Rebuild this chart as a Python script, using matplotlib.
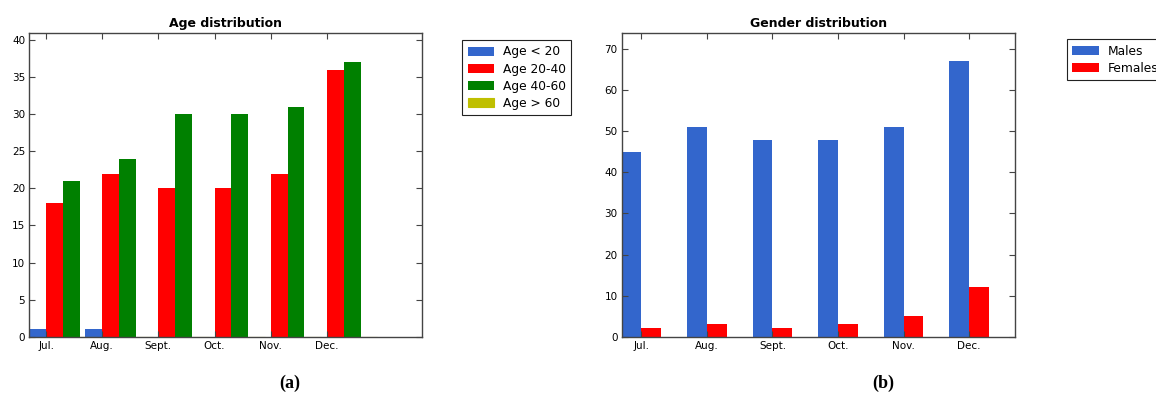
import matplotlib
matplotlib.use('Agg')
import matplotlib.pyplot as plt
import numpy as np

# Monthly counts
months = ['Jul.', 'Aug.', 'Sept.', 'Oct.', 'Nov.', 'Dec.']
age_under_20 = [1, 1, 0, 0, 0, 0]
age_20_40 = [18, 22, 20, 20, 22, 36]
age_40_60 = [21, 24, 30, 30, 31, 37]
age_over_60 = [0, 0, 0, 0, 0, 0]
males = [45, 51, 48, 48, 51, 67]
females = [2, 3, 2, 3, 5, 12]

plt.rcParams['font.family'] = 'DejaVu Sans'
plt.rcParams['axes.edgecolor'] = '#444444'
plt.rcParams['axes.linewidth'] = 1.0

width = 0.3
ind = np.arange(len(months))


def style_axes(ax, title, ymax, xmax, yticks):
    ax.set_title(title, fontsize=9, fontweight='bold', pad=4)
    ax.set_xlim(0, xmax)
    ax.set_ylim(0, ymax)
    ax.set_yticks(yticks)
    ax.set_xticks(ind + width)
    ax.set_xticklabels(months)
    ax.tick_params(direction='in', length=4, width=0.8, labelsize=7.5,
                   top=True, right=True, color='#444444', pad=3)


def add_legend(handles, labels, anchor):
    leg = fig.legend(handles, labels, loc='upper left', bbox_to_anchor=anchor,
                     borderaxespad=0, fontsize=8.8, fancybox=False,
                     edgecolor='#222222', handlelength=2.2, handleheight=0.8,
                     handletextpad=0.7, labelspacing=0.33, borderpad=0.45,
                     framealpha=1)
    leg.get_frame().set_linewidth(0.8)
    return leg


fig = plt.figure(figsize=(11.56, 3.94), dpi=100)

# (a) age groups
ax1 = fig.add_axes([0.0253, 0.1454, 0.340, 0.7716])
b1 = ax1.bar(ind, age_under_20, width, align='edge', color='#3366cc', linewidth=0)
b2 = ax1.bar(ind + width, age_20_40, width, align='edge', color='#ff0000', linewidth=0)
b3 = ax1.bar(ind + 2 * width, age_40_60, width, align='edge', color='#008000', linewidth=0)
b4 = ax1.bar(ind + 3 * width, age_over_60, width, align='edge', color='#bfbf00',
             edgecolor='#bfbf00', linewidth=0.8)
style_axes(ax1, 'Age distribution', 41, 7, np.arange(0, 41, 5))
add_legend([b1, b2, b3, b4], ['Age < 20', 'Age 20-40', 'Age 40-60', 'Age > 60'],
           (0.3997, 0.8985))

# (b) gender
ax2 = fig.add_axes([0.5378, 0.1454, 0.3402, 0.7716])
m = ax2.bar(ind, males, width, align='edge', color='#3366cc', linewidth=0)
f = ax2.bar(ind + width, females, width, align='edge', color='#ff0000', linewidth=0)
style_axes(ax2, 'Gender distribution', 74, 6, np.arange(0, 71, 10))
add_legend([m, f], ['Males', 'Females'], (0.923, 0.901))

# panel captions
fig.text(0.251, 0.028, '(a)', fontsize=13, fontweight='bold',
         family='Liberation Serif', ha='center', va='center')
fig.text(0.764, 0.028, '(b)', fontsize=13, fontweight='bold',
         family='Liberation Serif', ha='center', va='center')

fig.savefig('out.png', dpi=100)
